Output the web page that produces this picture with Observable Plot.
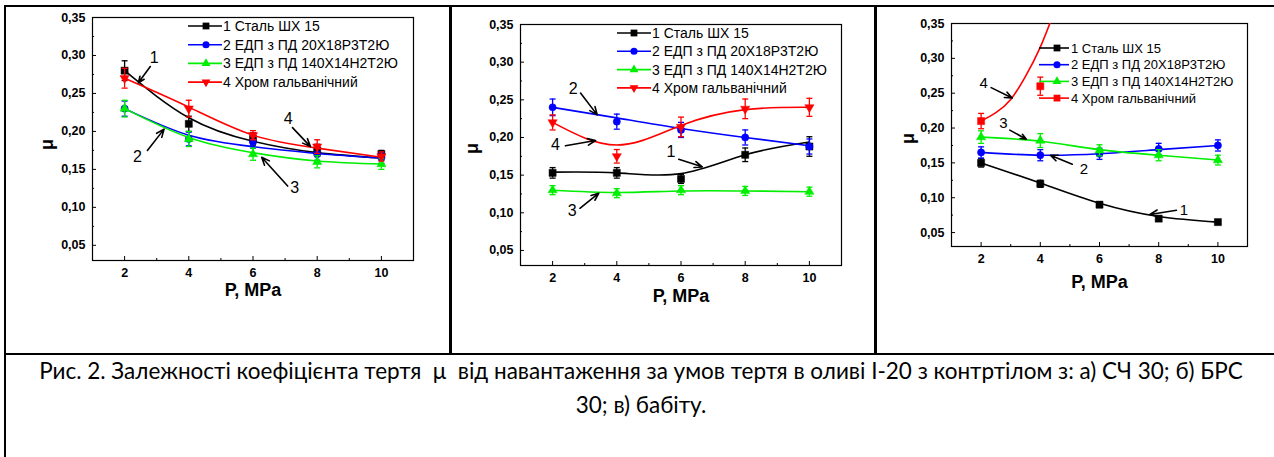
<!DOCTYPE html>
<html><head><meta charset="utf-8">
<script src="https://cdn.jsdelivr.net/npm/d3@7"></script>
<script src="https://cdn.jsdelivr.net/npm/@observablehq/plot@0.6"></script>
<style>
body{margin:0;background:#fff;}
#root{position:relative;width:1274px;height:457px;overflow:hidden;font-family:"Liberation Sans",Arial,sans-serif;background:#fff;}
.panel{position:absolute;top:0;}
.panel svg{background:transparent;max-width:none;}
.bl{position:absolute;background:#000;z-index:5;}
#overlay{position:absolute;left:0;top:0;z-index:4;pointer-events:none;}
</style></head>
<body><div id="root"></div>
<script>
// ---------- data ----------
const pressure = [2, 4, 6, 8, 10];
const xTicks = [2, 4, 6, 8, 10];
const xMinor = [3, 5, 7, 9];
const yTicks = [0.05, 0.10, 0.15, 0.20, 0.25, 0.30, 0.35];
const yMinor = [0.075, 0.125, 0.175, 0.225, 0.275, 0.325];
const seriesNames = ["1 Сталь ШХ 15", "2 ЕДП з ПД 20Х18Р3Т2Ю", "3 ЕДП з ПД 140Х14Н2Т2Ю", "4 Хром гальванічний"];
const seriesColors = ["#000000", "#0000ff", "#00ee00", "#ff0000"];
const xTitle = "P, MPa";
const yTitle = "μ";
const caption1 = "Рис. 2. Залежності коефіцієнта тертя  μ  від навантаження за умов тертя в оливі І-20 з контртілом з: а) СЧ 30; б) БРС";
const caption2 = "30; в) бабіту.";

// panel а) СЧ 30
const aSteel = [0.28, 0.21, 0.19, 0.175, 0.17];
const aSteelErr = [0.013, 0.01, 0.008, 0.008, 0.005];
const aSteelFit = [0.28, 0.218, 0.187, 0.172, 0.165];
const aEdp20 = [0.23, 0.19, 0.186, 0.17, 0.165];
const aEdp20Err = [0.01, 0.009, 0.008, 0.008, 0.007];
const aEdp20Fit = [0.23, 0.195, 0.18, 0.171, 0.165];
const aEdp140 = [0.23, 0.19, 0.17, 0.16, 0.157];
const aEdp140Err = [0.011, 0.01, 0.008, 0.008, 0.007];
const aEdp140Fit = [0.23, 0.192, 0.172, 0.161, 0.157];
const aChrome = [0.27, 0.23, 0.195, 0.18, 0.167];
const aChromeErr = [0.013, 0.011, 0.006, 0.009, 0.006];
const aChromeFit = [0.27, 0.232, 0.195, 0.178, 0.166];
const aLabels = [{t: "1", x: 2.92, y: 0.297}, {t: "2", x: 2.40, y: 0.167}, {t: "3", x: 7.3, y: 0.125}, {t: "4", x: 7.1, y: 0.216}];
const aArrows = [[2.8, 0.2855, 2.43, 0.264], [2.71, 0.175, 3.23, 0.203], [7.08, 0.128, 6.27, 0.166], [7.23, 0.205, 7.79, 0.18]];

// panel б) БРС 30
const bSteel = [0.153, 0.153, 0.145, 0.177, 0.188];
const bSteelErr = [0.007, 0.007, 0.006, 0.009, 0.013];
const bSteelFit = [0.154, 0.153, 0.152, 0.177, 0.194];
const bEdp20 = [0.24, 0.221, 0.21, 0.2, 0.188];
const bEdp20Err = [0.011, 0.01, 0.01, 0.01, 0.01];
const bEdp20Fit = [0.24, 0.226, 0.212, 0.2, 0.189];
const bEdp140 = [0.13, 0.126, 0.13, 0.129, 0.128];
const bEdp140Err = [0.006, 0.006, 0.006, 0.006, 0.006];
const bEdp140Fit = [0.13, 0.127, 0.129, 0.129, 0.128];
const bChrome = [0.22, 0.175, 0.214, 0.238, 0.24];
const bChromeErr = [0.01, 0.009, 0.013, 0.013, 0.012];
const bChromeFit = [0.22, 0.19, 0.216, 0.237, 0.24];
const bLabels = [{t: "2", x: 2.64, y: 0.264}, {t: "4", x: 2.09, y: 0.19}, {t: "1", x: 5.69, y: 0.181}, {t: "3", x: 2.61, y: 0.102}];
const bArrows = [[2.87, 0.259, 3.39, 0.23], [2.40, 0.189, 3.34, 0.196], [5.93, 0.171, 6.66, 0.161], [2.85, 0.106, 3.44, 0.126]];

// panel в) бабіт
const cSteel = [0.15, 0.12, 0.09, 0.07, 0.065];
const cSteelErr = [0.006, 0.005, 0.004, 0.003, 0.002];
const cSteelFit = [0.15, 0.121, 0.092, 0.073, 0.065];
const cEdp20 = [0.165, 0.161, 0.163, 0.17, 0.175];
const cEdp20Err = [0.008, 0.008, 0.008, 0.008, 0.008];
const cEdp20Fit = [0.165, 0.161, 0.163, 0.169, 0.175];
const cEdp140 = [0.187, 0.182, 0.168, 0.161, 0.154];
const cEdp140Err = [0.009, 0.01, 0.008, 0.008, 0.007];
const cEdp140Fit = [0.187, 0.181, 0.169, 0.161, 0.154];
const cChromeX = [2, 4];
const cChrome = [0.21, 0.26];
const cChromeErr = [0.011, 0.013];
const cChromeFitX = [2, 2.5, 3, 3.5, 4, 4.5];
const cChromeFit = [0.21, 0.222, 0.241, 0.274, 0.316, 0.37];
const cLabels = [{t: "4", x: 2.09, y: 0.264}, {t: "3", x: 2.75, y: 0.207}, {t: "2", x: 5.47, y: 0.141}, {t: "1", x: 8.85, y: 0.082}];
const cArrows = [[2.34, 0.258, 3.05, 0.243], [2.97, 0.197, 3.53, 0.184], [5.08, 0.148, 4.34, 0.161], [8.6, 0.082, 7.7, 0.076]];

// ---------- panels ----------
const fmt = d => d.toFixed(2).replace(".", ",");
const capSymbol = {draw(ctx) { ctx.moveTo(-3, 0); ctx.lineTo(3, 0); }};
const symbols = ["square", "circle", "triangle", "triangle"];
const rotations = [0, 0, 0, 180];

const panels = [
  {left: 0, width: 450, ml: 92, mr: 37, mt: 17, mb: 94, xDy: 35, muDx: 45, muDy: 11, annFs: 16,
   series: [
     {x: pressure, y: aSteel, e: aSteelErr, fx: pressure, fy: aSteelFit},
     {x: pressure, y: aEdp20, e: aEdp20Err, fx: pressure, fy: aEdp20Fit},
     {x: pressure, y: aEdp140, e: aEdp140Err, fx: pressure, fy: aEdp140Fit},
     {x: pressure, y: aChrome, e: aChromeErr, fx: pressure, fy: aChromeFit}],
   labels: aLabels, arrows: aArrows},
  {left: 450, width: 425, ml: 70, mr: 34, mt: 24, mb: 89, xDy: 36, muDx: 48, muDy: 9, annFs: 16,
   series: [
     {x: pressure, y: bSteel, e: bSteelErr, fx: pressure, fy: bSteelFit},
     {x: pressure, y: bEdp20, e: bEdp20Err, fx: pressure, fy: bEdp20Fit},
     {x: pressure, y: bEdp140, e: bEdp140Err, fx: pressure, fy: bEdp140Fit},
     {x: pressure, y: bChrome, e: bChromeErr, fx: pressure, fy: bChromeFit}],
   labels: bLabels, arrows: bArrows},
  {left: 875, width: 399, ml: 76, mr: 27, mt: 23, mb: 108, xDy: 41, muDx: 43, muDy: 9, annFs: 15, lastSquare: true,
   series: [
     {x: pressure, y: cSteel, e: cSteelErr, fx: pressure, fy: cSteelFit},
     {x: pressure, y: cEdp20, e: cEdp20Err, fx: pressure, fy: cEdp20Fit},
     {x: pressure, y: cEdp140, e: cEdp140Err, fx: pressure, fy: cEdp140Fit},
     {x: cChromeX, y: cChrome, e: cChromeErr, fx: cChromeFitX, fy: cChromeFit}],
   labels: cLabels, arrows: cArrows}
];

const root = document.getElementById("root");

panels.forEach((p, pi) => {
  const marks = [
    Plot.axisY({ticks: yTicks, tickSize: 0, tickPadding: 7, tickFormat: fmt, fontWeight: "bold", fontSize: 12.5, label: null}),
    Plot.axisY({ticks: yTicks, tickSize: -4, text: null, label: null}),
    Plot.axisY({ticks: yMinor, tickSize: -2, text: null, label: null}),
    Plot.axisX({ticks: xTicks, tickSize: 0, tickPadding: 8, tickFormat: d => String(d), fontWeight: "bold", fontSize: 12.5, label: null}),
    Plot.axisX({ticks: xTicks, tickSize: -4, text: null, label: null}),
    Plot.axisX({ticks: xMinor, tickSize: -2, text: null, label: null}),
    Plot.frame({stroke: "#000", strokeWidth: 1.2}),
    Plot.text([xTitle], {text: d => d, frameAnchor: "bottom", dy: p.xDy, fontWeight: "bold", fontSize: 18}),
    Plot.text([yTitle], {text: d => d, frameAnchor: "left", dx: -p.muDx, dy: p.muDy, rotate: -90, fontWeight: "bold", fontSize: 18})
  ];
  p.series.forEach((s, si) => {
    const col = seriesColors[si];
    const fit = s.fx.map((x, i) => ({x, y: s.fy[i]}));
    const pts = s.x.map((x, i) => ({x, y: s.y[i], e: s.e[i]}));
    marks.push(Plot.line(fit, {x: "x", y: "y", stroke: col, strokeWidth: 1.6, curve: "natural", clip: true}));
    marks.push(Plot.ruleX(pts, {x: "x", y1: d => d.y - d.e, y2: d => d.y + d.e, stroke: col, strokeWidth: 1.3}));
    marks.push(Plot.dot(pts, {x: "x", y: d => d.y - d.e, symbol: capSymbol, fill: "none", stroke: col, strokeWidth: 1.3}));
    marks.push(Plot.dot(pts, {x: "x", y: d => d.y + d.e, symbol: capSymbol, fill: "none", stroke: col, strokeWidth: 1.3}));
    const sq = p.lastSquare && si === 3;
    const sym = sq ? "square" : symbols[si];
    const r = sym === "square" ? 4 : sym === "circle" ? 3.6 : 3.4;
    marks.push(Plot.dot(pts, {x: "x", y: "y", symbol: sym, r, fill: col, stroke: col, strokeWidth: 0.5, rotate: sq ? 0 : rotations[si]}));
  });
  marks.push(Plot.arrow(p.arrows, {x1: d => d[0], y1: d => d[1], x2: d => d[2], y2: d => d[3], stroke: "#000", strokeWidth: 1.6, headLength: 8, headAngle: 45}));
  marks.push(Plot.text(p.labels, {x: "x", y: "y", text: "t", fontSize: p.annFs, fill: "#000"}));

  const chart = Plot.plot({
    width: p.width, height: 354,
    marginLeft: p.ml, marginRight: p.mr, marginTop: p.mt, marginBottom: p.mb,
    x: {domain: [1, 11]},
    y: {domain: [0.03, 0.35]},
    style: {fontFamily: "'Liberation Sans', Arial, sans-serif", fontSize: "12px", color: "#000", background: "transparent"},
    marks
  });
  const div = document.createElement("div");
  div.className = "panel";
  div.style.left = p.left + "px";
  div.style.width = p.width + "px";
  div.appendChild(chart);
  root.appendChild(div);
});

// ---------- legends and caption overlay ----------
const legendSpecs = [
  {x0: 188, x1: 222, xm: 206, xt: 223, y0: 26, dy: 18.7, fs: 14, lastSquare: false},
  {x0: 617, x1: 651, xm: 634, xt: 652, y0: 33, dy: 18.3, fs: 14, lastSquare: false},
  {x0: 1039, x1: 1069, xm: 1057, xt: 1071, y0: 48, dy: 16.7, fs: 13, lastSquare: true}
];
const ov = d3.select(root).append("svg").attr("id", "overlay").attr("width", 1274).attr("height", 457);
const d3sym = {square: d3.symbolSquare, circle: d3.symbolCircle, triangle: d3.symbolTriangle};
legendSpecs.forEach(L => {
  seriesNames.forEach((name, i) => {
    const y = L.y0 + i * L.dy;
    const col = seriesColors[i];
    ov.append("line").attr("x1", L.x0).attr("x2", L.x1).attr("y1", y).attr("y2", y).attr("stroke", col).attr("stroke-width", 1.6);
    const sq = L.lastSquare && i === 3;
    const sname = sq ? "square" : symbols[i];
    const size = sname === "square" ? 46 : sname === "circle" ? 40 : 34;
    const rot = sq ? 0 : rotations[i];
    ov.append("path").attr("d", d3.symbol(d3sym[sname], size)()).attr("fill", col)
      .attr("transform", `translate(${L.xm},${y}) rotate(${rot})`);
    ov.append("text").attr("x", L.xt).attr("y", y).attr("dominant-baseline", "central")
      .attr("font-family", "'Liberation Sans', Arial, sans-serif").attr("font-size", L.fs).text(name);
  });
});

// caption
const capFont = "Lato, 'Open Sans', sans-serif";
const cv = document.createElement("canvas").getContext("2d");
cv.font = `20px ${capFont}`;
const w20 = cv.measureText(caption1).width;
const capFs = 20 * 1204 / w20;
[caption1, caption2].forEach((t, i) => {
  ov.append("text").attr("x", 641).attr("y", 379 + i * 34).attr("text-anchor", "middle")
    .attr("font-family", capFont).attr("font-size", capFs).attr("fill", "#000")
    .style("white-space", "pre").text(t);
});

// table borders
[[4, 5, 1270, 2], [4, 5, 2, 452], [449, 5, 2.5, 350], [874, 5, 2.5, 350], [4, 352.5, 1270, 2.5]].forEach(b => {
  const d = document.createElement("div");
  d.className = "bl";
  d.style.left = b[0] + "px"; d.style.top = b[1] + "px"; d.style.width = b[2] + "px"; d.style.height = b[3] + "px";
  root.appendChild(d);
});
</script>
</body></html>
